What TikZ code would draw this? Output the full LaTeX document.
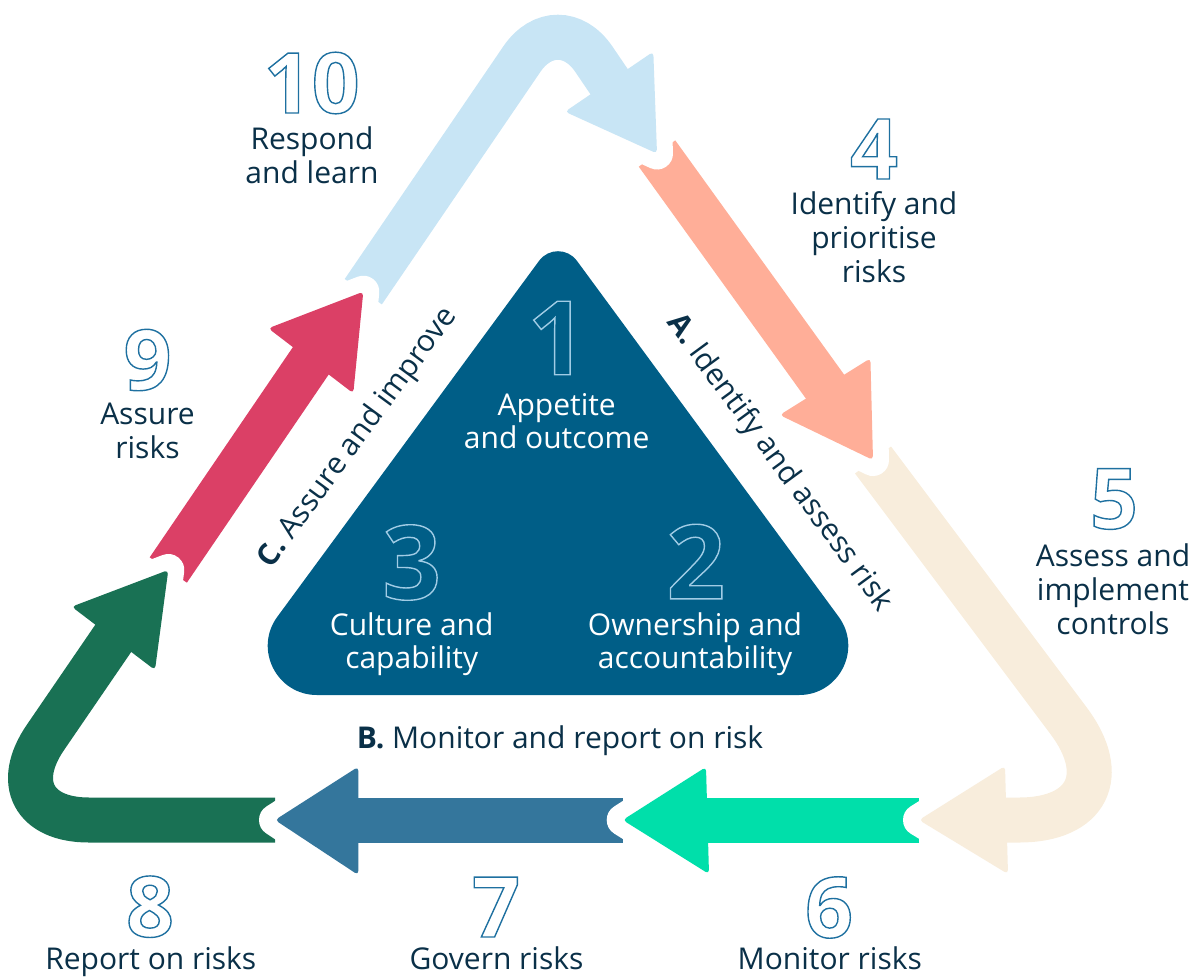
\documentclass[tikz,border=0pt]{standalone}
\usepackage{fontspec}
\setmainfont{Open Sans}
\definecolor{navy}{RGB}{10,48,72}
\definecolor{tri}{RGB}{0,94,135}
\definecolor{cLB}{RGB}{200,229,245}
\definecolor{cSal}{RGB}{255,174,152}
\definecolor{cCream}{RGB}{248,237,220}
\definecolor{cTeal}{RGB}{0,223,170}
\definecolor{cSteel}{RGB}{52,118,156}
\definecolor{cGreen}{RGB}{25,113,84}
\definecolor{cRed}{RGB}{219,64,102}
% outlined digits: #1 = stroke colour (r g b), #2 = text
\newcommand\outlnum[2]{\special{pdf:literal direct #1 RG 1 Tr 1.4 w}#2\special{pdf:literal direct 0 Tr}}
\newcommand\outcol{0.118 0.439 0.627}
\newcommand\incol{0.63 0.80 0.90}
\begin{document}
\begin{tikzpicture}[x=1pt,y=-1pt,
  lbl/.style={text=navy, font=\fontsize{30}{34}\selectfont, align=center, inner sep=0pt},
  inlbl/.style={text=white, font=\fontsize{30}{33.3}\selectfont, align=center, inner sep=0pt},
  outdigit/.style={inner sep=0pt, font=\bfseries\fontsize{84}{84}\selectfont},
  indigit/.style={inner sep=0pt, font=\bfseries\fontsize{103}{103}\selectfont},
  halo/.style={draw=white, line width=32pt, line join=round},
  shaftline/.style={line width=45pt, line cap=butt},
  headfill/.style={rounded corners=4pt}]
\useasboundingbox (0,0) rectangle (1193,977);

% ---------- central rounded triangle ----------
\coordinate (ta2) at (576.9,260.8);
\coordinate (tbr1) at (838.7,616.8);
\coordinate (tbrc1) at (862.5,649.2);
\coordinate (tbrc2) at (839.3,695);
\coordinate (tbr2) at (799.1,695);
\coordinate (tbl2) at (316.9,695);
\coordinate (tblc2) at (276.7,695);
\coordinate (tblc1) at (253.5,649.2);
\coordinate (tbl1) at (277.3,616.8);
\coordinate (ta1) at (539.1,260.8);
\coordinate (tac1) at (548.5,248);
\coordinate (tac2) at (567.5,248);
\fill[tri] (ta2) -- (tbr1) .. controls (tbrc1) and (tbrc2) .. (tbr2) -- (tbl2)
  .. controls (tblc2) and (tblc1) .. (tbl1) -- (ta1) .. controls (tac1) and (tac2) .. (ta2) -- cycle;

% ---------- arrow geometry ----------
% heads: back corner 1, back corner 2, tip
\coordinate (h10a) at (565,111.7);  \coordinate (h10b) at (653.3,51.7); \coordinate (h10t) at (657,153.5);
\coordinate (h9a) at (268.3,328.3); \coordinate (h9b) at (353.3,393.3); \coordinate (h9t) at (363.3,291.7);
\coordinate (h8a) at (71.7,606.7);  \coordinate (h8b) at (155,670);     \coordinate (h8t) at (168.3,570);
\coordinate (h7a) at (358.3,766.7); \coordinate (h7b) at (358.3,875);   \coordinate (h7t) at (275,820);
\coordinate (h6a) at (706,767);     \coordinate (h6b) at (709,874);     \coordinate (h6t) at (622.7,820);
\coordinate (h5a) at (1005,766);    \coordinate (h5b) at (1008,874);    \coordinate (h5t) at (919,820);
\coordinate (h4a) at (779.7,415);   \coordinate (h4b) at (870.4,358.3); \coordinate (h4t) at (873,460);
% shaft ends (slightly inside the heads) and bends
\coordinate (e10) at (613.6,88.3);  \coordinate (v10) at (557.9,6.25);
\coordinate (e9) at (315.3,354.2);
\coordinate (e8) at (117.8,631.7);  \coordinate (v8) at (-11.1,820);
\coordinate (e7) at (350.3,820);
\coordinate (e6) at (699.5,820);
\coordinate (e5) at (998.5,820);    \coordinate (v5) at (1143,820);
\coordinate (e4) at (829.7,393.1);

% arrow 10 (respond and learn)
\draw[halo] (h10a) -- (h10b) -- (h10t) -- cycle;
\draw[shaftline, cLB, rounded corners=64pt] (h9t) -- (v10) -- (e10);
\fill[cLB, headfill] (h10a) -- (h10b) -- (h10t) -- cycle;
% arrow 9 (assure risks)
\draw[halo] (h9a) -- (h9b) -- (h9t) -- cycle;
\draw[shaftline, cRed] (h8t) -- (e9);
\fill[cRed, headfill] (h9a) -- (h9b) -- (h9t) -- cycle;
% arrow 8 (report on risks)
\draw[halo] (h8a) -- (h8b) -- (h8t) -- cycle;
\draw[shaftline, cGreen, rounded corners=100pt] (h7t) -- (v8) -- (e8);
\fill[cGreen, headfill] (h8a) -- (h8b) -- (h8t) -- cycle;
% arrow 7 (govern risks)
\draw[halo] (h7a) -- (h7b) -- (h7t) -- cycle;
\draw[shaftline, cSteel] (h6t) -- (e7);
\fill[cSteel, headfill] (h7a) -- (h7b) -- (h7t) -- cycle;
% arrow 6 (monitor risks)
\draw[halo] (h6a) -- (h6b) -- (h6t) -- cycle;
\draw[shaftline, cTeal] (h5t) -- (e6);
\fill[cTeal, headfill] (h6a) -- (h6b) -- (h6t) -- cycle;
% arrow 5 (assess and implement controls)
\draw[halo] (h5a) -- (h5b) -- (h5t) -- cycle;
\draw[shaftline, cCream, rounded corners=124pt] (h4t) -- (v5) -- (e5);
\fill[cCream, headfill] (h5a) -- (h5b) -- (h5t) -- cycle;
% arrow 4 (identify and prioritise risks)
\draw[halo] (h4a) -- (h4b) -- (h4t) -- cycle;
\draw[shaftline, cSal] (h10t) -- (e4);
\fill[cSal, headfill] (h4a) -- (h4b) -- (h4t) -- cycle;
% head of arrow 10 again over the tail of arrow 4
\begin{scope}
  \clip (622,122) rectangle (702,202);
  \draw[halo] (h10a) -- (h10b) -- (h10t) -- cycle;
  \fill[cLB, headfill] (h10a) -- (h10b) -- (h10t) -- cycle;
\end{scope}

% ---------- outer step labels ----------
\node[outdigit] (n10) at (311.7,83) {\outlnum{\outcol}{10}};
\node[lbl] (t10) at (312,155.1) {Respond\\and learn};
\node[outdigit] (n4) at (874,149) {\outlnum{\outcol}{4}};
\node[lbl] (t4) at (874,237.6) {Identify and\\prioritise\\risks};
\node[outdigit] (n5) at (1114,499) {\outlnum{\outcol}{5}};
\node[lbl] (t5) at (1113,589) {Assess and\\implement\\controls};
\node[outdigit] (n6) at (829,907.5) {\outlnum{\outcol}{6}};
\node[lbl, anchor=base] (t6) at (829.8,969) {Monitor risks};
\node[outdigit] (n7) at (496,907) {\outlnum{\outcol}{7}};
\node[lbl, anchor=base] (t7) at (496.5,969) {Govern risks};
\node[outdigit] (n8) at (150,906.7) {\outlnum{\outcol}{8}};
\node[lbl, anchor=base] (t8) at (150.8,969) {Report on risks};
\node[outdigit] (n9) at (147.5,360) {\outlnum{\outcol}{9}};
\node[lbl] (t9) at (147.5,431) {Assure\\risks};

% ---------- inner labels ----------
\node[indigit] (n1) at (557,338) {\outlnum{\incol}{1}};
\node[inlbl] (t1) at (556.7,421) {Appetite\\and outcome};
\node[indigit] (n3) at (411.7,562.5) {\outlnum{\incol}{3}};
\node[inlbl] (t3) at (411.7,643.9) {Culture and\\capability};
\node[indigit] (n2) at (695.8,561.5) {\outlnum{\incol}{2}};
\node[inlbl] (t2) at (695,643.9) {Ownership and\\accountability};

% ---------- side labels of the triangle ----------
\node[lbl, rotate=-53.7] (sa) at (779,463) {\textbf{A.} Identify and assess risk};
\node[lbl, anchor=base] (sb) at (560,748) {\textbf{B.} Monitor and report on risk};
\node[lbl, rotate=53.7] (sc) at (358,438) {\textbf{C.} Assure and improve};
\end{tikzpicture}
\end{document}
